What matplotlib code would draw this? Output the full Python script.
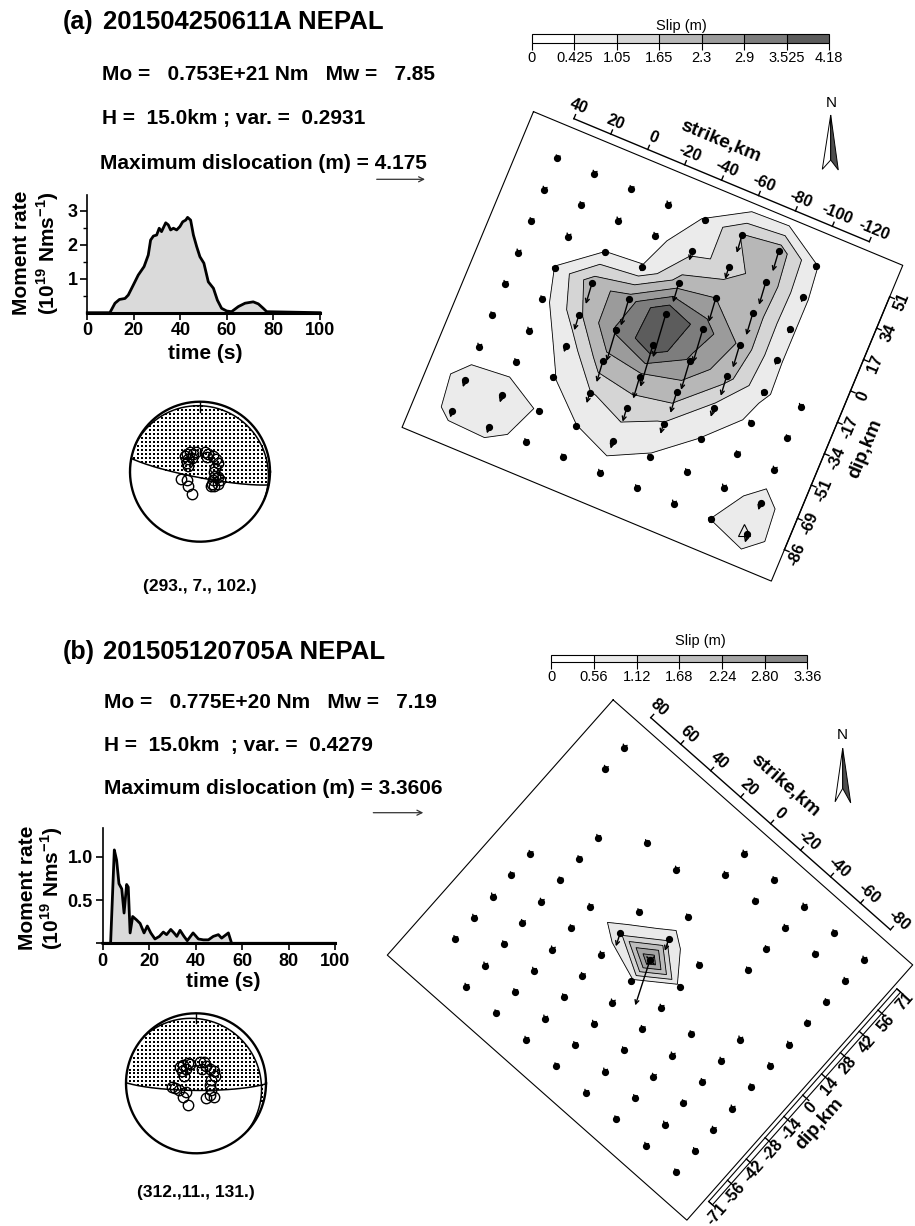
import numpy as np
import matplotlib
matplotlib.use("Agg")
import matplotlib.pyplot as plt
from matplotlib.transforms import Affine2D
from matplotlib.colors import ListedColormap, BoundaryNorm
from matplotlib.cm import ScalarMappable
from matplotlib.patches import Polygon, Rectangle

plt.rcParams["font.family"] = ["Liberation Sans", "DejaVu Sans"]
plt.rcParams["mathtext.fontset"] = "custom"
plt.rcParams["mathtext.rm"] = "Liberation Sans"
plt.rcParams["mathtext.bf"] = "Liberation Sans:bold"

W, H = 915, 1226

# ---------------------------------
# Data: event (a)
# ---------------------------------
event_a = "201504250611A NEPAL"
info_a = ["Mo =   0.753E+21 Nm   Mw =   7.85",
          "H =  15.0km ; var. =  0.2931",
          "Maximum dislocation (m) = 4.175"]
mech_a = [293., 7., 102.]
mech_label_a = "(293., 7., 102.)"

stf_time_a = [0, 9.7, 11.9, 13.8, 16.2, 17.6, 19.8, 21.9, 24.4, 26.2,
              27.2, 28.4, 29.8, 30.9, 31.9, 33.7, 34.8, 35.8, 37.0, 38.4,
              39.8, 41.0, 42.3, 43.1, 44.4, 45.6, 47.0, 48.4, 50.1, 52.0,
              54.2, 55.9, 57.7, 59.9, 62.0, 64.9, 67.8, 71.3, 73.5, 75.6,
              77.1, 100]
stf_rate_a = [0, 0, 0.28, 0.39, 0.42, 0.52, 0.82, 1.11, 1.36, 1.70,
              2.14, 2.26, 2.29, 2.49, 2.39, 2.65, 2.59, 2.44, 2.49, 2.44,
              2.54, 2.68, 2.73, 2.81, 2.73, 2.29, 1.95, 1.65, 1.46, 0.91,
              0.72, 0.37, 0.13, 0.05, 0.03, 0.18, 0.28, 0.32, 0.26, 0.13,
              0.03, 0]

strike_km_a = [40, 20, 0, -20, -40, -60, -80, -100, -120]
dip_km_a = [51, 34, 17, 0, -17, -34, -51, -69, -86]
# slip (m), rows follow dip_km_a, columns follow strike_km_a
slip_a = [
    [0.05, 0.10, 0.10, 0.15, 0.45, 1.70, 2.00, 0.45, 0.00],
    [0.05, 0.10, 0.10, 0.20, 0.90, 1.20, 2.20, 0.50, 0.00],
    [0.05, 0.10, 0.43, 0.45, 1.90, 2.30, 2.10, 0.50, 0.00],
    [0.05, 0.45, 2.00, 2.60, 4.175, 3.20, 2.20, 0.50, 0.00],
    [0.05, 0.15, 1.50, 3.00, 4.00, 2.80, 1.90, 0.50, 0.10],
    [0.05, 0.10, 0.60, 2.00, 2.10, 2.00, 0.90, 0.30, 0.05],
    [0.10, 0.20, 0.38, 1.00, 1.30, 1.00, 0.40, 0.10, 0.05],
    [0.70, 0.70, 0.38, 0.40, 0.70, 0.35, 0.10, 0.10, 0.70],
    [0.60, 0.65, 0.20, 0.05, 0.10, 0.05, 0.10, 0.43, 0.80],
]
levels_a = [0, 0.425, 1.05, 1.65, 2.3, 2.9, 3.525, 4.18]
level_labels_a = ["0", "0.425", "1.05", "1.65", "2.3", "2.9", "3.525", "4.18"]
colors_a = ["#ffffff", "#ebebeb", "#d5d5d5", "#b7b7b7", "#9b9b9b", "#7d7d7d", "#5c5c5c"]
hypo_a = (-120, -86)
rake_arrow_a = 264.0

sta_x_a = [-0.21, -0.18, -0.14, -0.10, -0.06, -0.17, -0.12, -0.19, -0.17, 0.07,
           0.12, 0.10, 0.18, 0.23, 0.25, 0.21, 0.20, 0.21, 0.19, 0.15,
           0.20, 0.25, 0.29, 0.26, -0.27, -0.18, -0.17, -0.12, 0.17]
sta_y_a = [0.22, 0.25, 0.28, 0.26, 0.28, 0.18, 0.20, 0.13, 0.08, 0.28,
           0.26, 0.21, 0.22, 0.18, 0.12, 0.06, 0.00, -0.06, -0.12, -0.20,
           -0.21, -0.18, -0.12, -0.07, -0.10, -0.12, -0.21, -0.32, -0.17]

# ---------------------------------
# Data: event (b)
# ---------------------------------
event_b = "201505120705A NEPAL"
info_b = ["Mo =   0.775E+20 Nm   Mw =   7.19",
          "H =  15.0km  ; var. =  0.4279",
          "Maximum dislocation (m) = 3.3606"]
mech_b = [312., 11., 131.]
mech_label_b = "(312.,11., 131.)"

stf_time_b = [0, 3.4, 5.0, 6.0, 7.0, 8.2, 9.2, 10.3, 11.0, 11.8,
              12.9, 14.6, 16.1, 17.8, 19.2, 20.7, 22.5, 24.4, 26.1, 27.5,
              29.3, 30.7, 31.9, 33.3, 35.0, 36.4, 38.9, 41.2, 43.3, 45.5,
              47.6, 49.8, 51.2, 54.1, 55.5, 100]
stf_rate_b = [0, 0, 1.08, 0.96, 0.69, 0.63, 0.35, 0.68, 0.65, 0.12,
              0.31, 0.27, 0.23, 0.12, 0.20, 0.12, 0.05, 0.08, 0.13, 0.10,
              0.16, 0.12, 0.08, 0.15, 0.08, 0.03, 0.12, 0.05, 0.04, 0.04,
              0.08, 0.10, 0.06, 0.12, 0.0, 0]

strike_km_b = [80, 60, 40, 20, 0, -20, -40, -60, -80]
dip_km_b = [71, 56.8, 42.6, 28.4, 14.2, 0, -14.2, -28.4, -42.6, -56.8, -71]
dip_labels_b = ["71", "56", "42", "28", "14", "0", "-14", "-28", "-42", "-56", "-71"]
slip_b = [
    [0.02, 0, 0, 0, 0.02, 0.02, 0.02, 0.02, 0.02],
    [0.02, 0, 0, 0, 0.02, 0.02, 0.02, 0.02, 0.02],
    [0, 0, 0.02, 0.02, 0, 0, 0.02, 0, 0.02],
    [0, 0.02, 0, 0, 0.02, 0, 0.02, 0, 0.02],
    [0, 0.02, 0, 0.02, 0.90, 0.02, 0, 0, 0.02],
    [0.02, 0.02, 0.02, 0.95, 3.3606, 0.30, 0, 0.02, 0.02],
    [0.02, 0.02, 0.02, 0.02, 0.30, 0.02, 0.02, 0.02, 0.02],
    [0.02, 0.02, 0.02, 0.02, 0.02, 0.02, 0.02, 0.02, 0.02],
    [0.02, 0.02, 0.02, 0.02, 0.02, 0.02, 0.02, 0.02, 0.02],
    [0.02, 0.02, 0.02, 0.02, 0.02, 0.02, 0.02, 0.02, 0.02],
    [0, 0.02, 0.02, 0.02, 0.02, 0.02, 0.02, 0.02, 0.02],
]
levels_b = [0, 0.56, 1.12, 1.68, 2.24, 2.80, 3.36]
level_labels_b = ["0", "0.56", "1.12", "1.68", "2.24", "2.80", "3.36"]
colors_b = ["#ffffff", "#e9e9e9", "#d4d4d4", "#bdbdbd", "#a4a4a4", "#888888"]
hypo_b = (0, 0)
rake_arrow_b = 246.5

sta_x_b = [-0.23, -0.18, -0.12, -0.08, -0.20, -0.14, -0.17, 0.06, 0.11, 0.14,
           0.08, 0.20, 0.26, 0.27, 0.22, 0.20, 0.21, 0.20, 0.14, 0.26,
           -0.30, -0.25, -0.14, -0.18, -0.12, -0.35]
sta_y_b = [0.24, 0.26, 0.29, 0.27, 0.18, 0.20, 0.10, 0.30, 0.31, 0.25,
           0.21, 0.21, 0.17, 0.10, 0.05, -0.02, -0.10, -0.17, -0.21, -0.19,
           -0.06, -0.09, -0.12, -0.19, -0.31, -0.05]


# ---------------------------------
# Figure with a pixel overlay axes
# ---------------------------------
fig = plt.figure(figsize=(W / 100, H / 100), dpi=100)
ax0 = fig.add_axes([0, 0, 1, 1])
ax0.set_xlim(0, W)
ax0.set_ylim(H, 0)
ax0.axis("off")


def px_rect(x0, y0, x1, y1):
    return [x0 / W, 1 - y1 / H, (x1 - x0) / W, (y1 - y0) / H]


def header(y_title, y_lines, x_lines, event, label, info, arrow_y, arrow_x):
    ax0.text(63, y_title, label, ha="left", va="center", fontsize=18, fontweight="bold")
    ax0.text(103, y_title, event, ha="left", va="center", fontsize=18.5, fontweight="bold")
    for y, x, s in zip(y_lines, x_lines, info):
        ax0.text(x, y, s, ha="left", va="center", fontsize=15, fontweight="bold")
    ax0.annotate("", xy=(arrow_x[1], arrow_y), xytext=(arrow_x[0], arrow_y),
                 arrowprops=dict(arrowstyle="->", lw=0.9, color="#333333",
                                 shrinkA=0, shrinkB=0, mutation_scale=9))


def moment_rate(box, t, rate, ymax, yticks, ylabels, yminor, lab_x, lab_y, time_xy):
    ax = fig.add_axes(px_rect(*box))
    ax.fill_between(t, rate, color="#dadada", lw=0)
    ax.plot(t, rate, color="k", lw=2, clip_on=False, zorder=3)
    ax.set_xlim(0, 100)
    ax.set_ylim(0, ymax)
    ax.set_facecolor("none")
    for side in ["top", "right"]:
        ax.spines[side].set_visible(False)
    ax.spines["left"].set_linewidth(1.2)
    ax.spines["bottom"].set_linewidth(2.2)
    ax.set_xticks([0, 20, 40, 60, 80, 100], labels=["0", "20", "40", "60", "80", "100"],
                  fontsize=13, fontweight="bold")
    ax.set_yticks(yticks, labels=ylabels, fontsize=13, fontweight="bold")
    ax.set_yticks(yminor, minor=True)
    ax.tick_params(which="major", length=5, width=1.2, pad=2)
    ax.tick_params(which="minor", length=3, width=1.0)
    ax0.text(lab_x[0], lab_y, "Moment rate", rotation=90, ha="center", va="center",
             fontsize=15, fontweight="bold")
    ax0.text(lab_x[1], lab_y, r"(10$^{\mathbf{19}}$ Nms$^{\mathbf{-1}}$)", rotation=90,
             ha="center", va="center", fontsize=15, fontweight="bold")
    ax0.text(time_xy[0], time_xy[1], "time (s)", ha="center", va="center",
             fontsize=15, fontweight="bold")


def beachball(center, mech, sx, sy, label, label_y):
    half = 75
    ax = fig.add_axes(px_rect(center[0] - half, center[1] - half, center[0] + half, center[1] + half))
    lim = half / 70.0
    ax.set_xlim(-lim, lim)
    ax.set_ylim(-lim, lim)
    ax.axis("off")
    phi, delta, lam = np.radians(mech)
    # normal and slip vectors in (north, east, down)
    n = np.array([-np.sin(delta) * np.sin(phi), np.sin(delta) * np.cos(phi), -np.cos(delta)])
    u = np.array([np.cos(lam) * np.cos(phi) + np.sin(lam) * np.cos(delta) * np.sin(phi),
                  np.cos(lam) * np.sin(phi) - np.sin(lam) * np.cos(delta) * np.cos(phi),
                  -np.sin(lam) * np.sin(delta)])
    # stipple compressional quadrants
    g = np.arange(-1, 1.0001, 0.057)
    X, Y = np.meshgrid(g, g)
    R = np.hypot(X, Y)
    inside = R < 0.975
    inc = 2 * np.arcsin(np.clip(R / np.sqrt(2), 0, 1))
    az = np.arctan2(X, Y)
    v = np.stack([np.sin(inc) * np.cos(az), np.sin(inc) * np.sin(az), np.cos(inc)])
    pol = np.tensordot(n, v, 1) * np.tensordot(u, v, 1)
    comp = inside & (pol > 0)
    ax.plot(X[comp], Y[comp], "s", ms=1.6, mew=0, color="k")
    # nodal planes
    for nv in [n, u]:
        e1 = np.cross(nv, [0, 0, 1.0])
        e1 /= np.linalg.norm(e1)
        e2 = np.cross(nv, e1)
        if e2[2] < 0:
            e2 = -e2
        th = np.linspace(0, np.pi, 200)
        vv = np.outer(np.cos(th), e1) + np.outer(np.sin(th), e2)
        vinc = np.arccos(np.clip(vv[:, 2], -1, 1))
        vaz = np.arctan2(vv[:, 1], vv[:, 0])
        r = np.sqrt(2) * np.sin(vinc / 2)
        ax.plot(r * np.sin(vaz), r * np.cos(vaz), color="k", lw=1.1)
    circ = np.linspace(0, 2 * np.pi, 300)
    ax.plot(np.cos(circ), np.sin(circ), color="k", lw=1.7)
    ax.plot([0, 0], [1, 0.86], color="k", lw=1.0)
    ax.plot(sx, sy, "o", mfc="none", mec="k", ms=7.5, mew=1.0)
    ax0.text(center[0], label_y, label, ha="center", va="center", fontsize=12.5, fontweight="bold")


def slip_bar(box, levels, labels, colors, title_xy):
    cax = fig.add_axes(px_rect(*box))
    norm = BoundaryNorm(levels, len(colors))
    cb = fig.colorbar(ScalarMappable(norm=norm, cmap=ListedColormap(colors)), cax=cax,
                      orientation="horizontal", spacing="uniform", ticks=levels, drawedges=True)
    cb.set_ticklabels(labels)
    cb.outline.set_linewidth(0.8)
    cb.dividers.set_linewidth(0.8)
    cax.tick_params(length=5, width=0.8, labelsize=10.5, pad=1)
    ax0.text(title_xy[0], title_xy[1], "Slip (m)", ha="center", va="center", fontsize=10.5)


def north_arrow(tip, left, right, notch, n_xy):
    ax0.add_patch(Polygon([tip, left, notch], closed=True, fc="white", ec="k", lw=0.7))
    ax0.add_patch(Polygon([tip, notch, right], closed=True, fc="#4d4d4d", ec="k", lw=0.7))
    ax0.text(n_xy[0], n_xy[1], "N", ha="center", va="center", fontsize=11)


def fault_map(theta, origin, strike_km, dip_km, dip_labels, slip, levels, colors,
              rake_deg, km_per_m, hypo, hypo_marker,
              strike_axis_d, dip_axis_s, dip_box, strike_title, dip_title):
    k = 2.0
    th = np.radians(theta)
    M = np.array([[-k * np.cos(th), k * np.sin(th), origin[0]],
                  [-k * np.sin(th), -k * np.cos(th), origin[1]],
                  [0, 0, 1]])
    trans = Affine2D(M) + ax0.transData

    def px(s, d):
        return M[0, 0] * s + M[0, 1] * d + M[0, 2], M[1, 0] * s + M[1, 1] * d + M[1, 2]

    s = np.array(strike_km, float)
    d = np.array(dip_km, float)
    z = np.array(slip, float)
    s_pad = np.concatenate([[2 * s[0] - s[1]], s, [2 * s[-1] - s[-2]]])
    d_pad = np.concatenate([[2 * d[0] - d[1]], d, [2 * d[-1] - d[-2]]])
    S, D = np.meshgrid(s_pad, d_pad)
    Z = np.pad(z, 1)
    fill_levels = list(levels)
    fill_levels[-1] = max(levels[-1], Z.max() + 1e-3)
    ax0.contourf(S, D, Z, levels=fill_levels, colors=colors, transform=trans, zorder=1)
    ax0.contour(S, D, Z, levels=levels[1:-1], colors="k", linewidths=0.6,
                transform=trans, zorder=2)

    # fault outline
    rs = [s_pad[0], s_pad[-1], s_pad[-1], s_pad[0], s_pad[0]]
    rd = [d_pad[0], d_pad[0], d_pad[-1], d_pad[-1], d_pad[0]]
    ax0.plot(rs, rd, color="k", lw=0.8, transform=trans, zorder=3)

    # subfault points and slip vectors
    Sg, Dg = np.meshgrid(s, d)
    has = z > 0
    ax0.plot(Sg[has], Dg[has], "o", ms=4.2, color="k", transform=trans, zorder=5)
    ux, uy = np.cos(np.radians(rake_deg)), np.sin(np.radians(rake_deg))
    for sv, dv, zv in zip(Sg[has], Dg[has], z[has]):
        L = max(zv * km_per_m, 1.2)
        x0, y0 = px(sv, dv)
        x1, y1 = px(sv + L * ux, dv + L * uy)
        ax0.annotate("", xy=(x1, y1), xytext=(x0, y0), zorder=6,
                     arrowprops=dict(arrowstyle="->", lw=1.0, color="k",
                                     shrinkA=0, shrinkB=0, mutation_scale=7))
    hx, hy = px(*hypo)
    if hypo_marker == "x":
        ax0.plot(hx, hy, "x", ms=6, mew=1.0, color="k", zorder=7)
    else:
        ax0.plot(hx - 3, hy - 4, "^", ms=9, mfc="none", mec="k", mew=0.8, zorder=7)

    # strike axis
    ax0.plot([s[0], s[-1]], [strike_axis_d] * 2, color="k", lw=1.0, transform=trans)
    for sv in s:
        ax0.plot([sv, sv], [strike_axis_d, strike_axis_d + 2.2], color="k", lw=1.0, transform=trans)
        x, y = px(sv, strike_axis_d + 6.5)
        ax0.text(x, y, f"{sv:.0f}", rotation=-theta, ha="center", va="center",
                 fontsize=11.5, fontweight="bold")
    x, y = px(*strike_title)
    ax0.text(x, y, "strike,km", rotation=-theta, ha="center", va="center",
             fontsize=14, fontweight="bold")

    # dip axis
    if dip_box is None:
        ax0.plot([dip_axis_s] * 2, [d[0], d[-1]], color="k", lw=1.0, transform=trans)
        tick_from, tick_to, lab_s, lab_shift = dip_axis_s, dip_axis_s - 2.5, dip_axis_s - 6.5, 0
    else:
        ax0.add_patch(Rectangle((dip_box[1], d[-1]), dip_box[0] - dip_box[1], d[0] - d[-1],
                                fill=False, ec="k", lw=0.8, transform=trans))
        tick_from, tick_to, lab_s, lab_shift = dip_box[0], dip_box[1] - 1.5, dip_box[1] - 4.6, -2.2
    for dv, lab in zip(d, dip_labels):
        ax0.plot([tick_from, tick_to], [dv, dv], color="k", lw=1.0, transform=trans)
        x, y = px(lab_s, dv + lab_shift)
        ax0.text(x, y, lab, rotation=90 - theta, ha="center", va="center",
                 fontsize=11.5, fontweight="bold")
    x, y = px(*dip_title)
    ax0.text(x, y, "dip,km", rotation=90 - theta, ha="center", va="center",
             fontsize=14, fontweight="bold")


# ---------------------------------
# Panel (a)
# ---------------------------------
header(21.7, [75, 118.3, 163.3], [101.7, 101.7, 100], event_a, "(a)", info_a, 179.3, (376.7, 425))
moment_rate((87.3, 195, 320, 312.7), stf_time_a, stf_rate_a, 3.47,
            [1, 2, 3], ["1", "2", "3"], [0.5, 1.5, 2.5], (22, 47.5), 253, (205, 353.3))
beachball((200, 471.7), mech_a, sta_x_a, sta_y_a, mech_label_a, 586.7)
slip_bar((531.8, 34.3, 829.3, 42.7), levels_a, level_labels_a, colors_a, (681, 26))
north_arrow((830.7, 115), (822.3, 169.3), (838.3, 170), (830.7, 160), (831.7, 103.3))
fault_map(22.6, (592, 283.3), strike_km_a, dip_km_a, [str(v) for v in dip_km_a], slip_a,
          levels_a, colors_a, rake_arrow_a, 5.4, hypo_a, "^",
          72.5, -140, None, (-32, 90), (-158, -24))

# ---------------------------------
# Panel (b)
# ---------------------------------
header(652, [702, 746, 788], [104, 104, 104], event_b, "(b)", info_b, 812.7, (373.3, 423.3))
moment_rate((102.7, 828.3, 335, 943.3), stf_time_b, stf_rate_b, 1.33,
            [0, 0.5, 1.0], ["", "0.5", "1.0"], [], (27.5, 52), 888, (223, 981.7))
beachball((196, 1083.3), mech_b, sta_x_b, sta_y_b, mech_label_b, 1193)
slip_bar((551.4, 655.2, 807.3, 662.1), levels_b, level_labels_b, colors_b, (700, 641))
north_arrow((842.7, 748.2), (835.1, 801.8), (850.7, 802.9), (842.7, 788.4), (842.7, 734.8))
fault_map(41.5, (650, 960), strike_km_b, dip_km_b, dip_labels_b, slip_b,
          levels_b, colors_b, rake_arrow_b, 7.1, hypo_b, "x",
          91, None, (-102, -104.5), (7, 110), (-118, -5))

fig.savefig("out.png", dpi=100)
print("Saved to out.png")
